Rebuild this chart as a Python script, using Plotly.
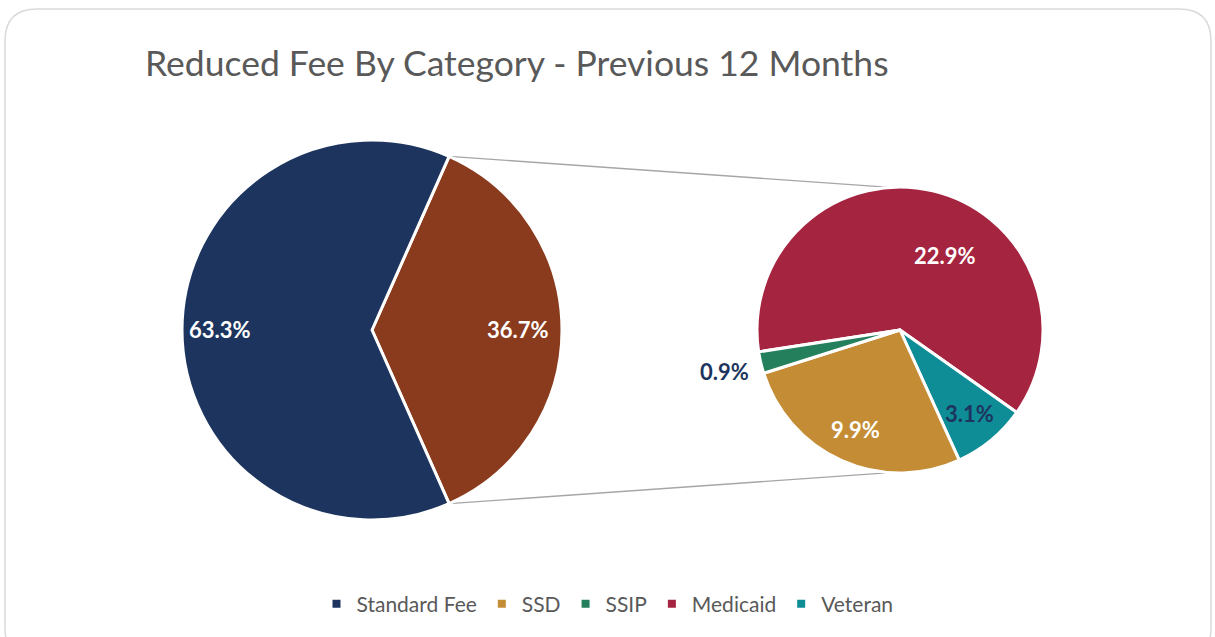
import math
import plotly.graph_objects as go

# ---- data ----
main_labels = ["Other", "Standard Fee"]
main_values = [36.7, 63.3]
sub_labels = ["Medicaid", "Veteran", "SSD", "SSIP"]
sub_values = [22.9, 3.1, 9.9, 0.9]
legend_labels = ["Standard Fee", "SSD", "SSIP", "Medicaid", "Veteran"]

colors = {
    "Standard Fee": "#1d355e",
    "Other": "#8a3b1d",
    "SSD": "#c48c34",
    "SSIP": "#24805c",
    "Medicaid": "#a5243f",
    "Veteran": "#0f8d97",
}
NAVY = "#1d355e"
FONT = "Gill Sans MT, Gill Sans, Lato, sans-serif"
W, H = 1215, 637

# ---- styling: label placement (radius fraction, angle shift in degrees) and colours ----
main_label_r = [0.77, 0.80]
main_label_shift = [0, 0]
main_label_color = ["white", "white"]
sub_label_r = [0.61, 0.76, 0.76, 1.26]
sub_label_shift = [18, 0, 0, 0]
sub_label_color = ["white", NAVY, "white", NAVY]

# geometry (pixels)
L_cx, L_cy, L_r = 372, 330, 190
R_cx, R_cy, R_r = 900, 330, 143


def px_x(x):
    return x / W


def px_y(y):
    return 1 - y / H


other_share = main_values[0] / sum(main_values)
main_rotation = 90 - other_share * 360 / 2

sub_total = sum(sub_values)
ssip_frac = sub_values[3] / sub_total
sub_rotation = 270 - ssip_frac * 360  # start angle of the Medicaid slice

fig = go.Figure()

fig.add_trace(go.Pie(
    labels=main_labels, values=main_values, sort=False, direction="clockwise",
    rotation=main_rotation,
    domain=dict(x=[px_x(L_cx - L_r), px_x(L_cx + L_r)], y=[px_y(L_cy + L_r), px_y(L_cy - L_r)]),
    marker=dict(colors=[colors[l] for l in main_labels], line=dict(color="white", width=3)),
    textinfo="none", showlegend=False, hoverinfo="label+value",
))

fig.add_trace(go.Pie(
    labels=sub_labels, values=sub_values, sort=False, direction="clockwise",
    rotation=sub_rotation,
    domain=dict(x=[px_x(R_cx - R_r), px_x(R_cx + R_r)], y=[px_y(R_cy + R_r), px_y(R_cy - R_r)]),
    marker=dict(colors=[colors[l] for l in sub_labels], line=dict(color="white", width=3)),
    textinfo="none", showlegend=False, hoverinfo="label+value",
))

for lab in legend_labels:
    fig.add_trace(go.Scatter(
        x=[None], y=[None], mode="markers", name=lab,
        marker=dict(symbol="square", size=8, color=colors[lab]),
    ))


def slice_labels(values, rotation, cx, cy, r, rfrac, shifts, cols):
    total = sum(values)
    ann = []
    start = rotation
    for v, k, s, c in zip(values, rfrac, shifts, cols):
        span = v / total * 360
        mid = math.radians(start + span / 2 + s)
        x = cx + k * r * math.sin(mid)
        y = cy - k * r * math.cos(mid)
        ann.append(dict(x=px_x(x), y=px_y(y), xref="paper", yref="paper",
                        text=f"{v:.1f}%", showarrow=False,
                        xanchor="center", yanchor="middle",
                        font=dict(family=FONT, size=22, color=c, weight="bold")))
        start += span
    return ann


annotations = slice_labels(main_values, main_rotation, L_cx, L_cy, L_r,
                           main_label_r, main_label_shift, main_label_color)
annotations += slice_labels(sub_values, sub_rotation, R_cx, R_cy, R_r,
                            sub_label_r, sub_label_shift, sub_label_color)

# connector lines
a1 = math.radians(main_rotation)
a2 = math.radians(main_rotation + other_share * 360)
p_top = (L_cx + L_r * math.sin(a1), L_cy - L_r * math.cos(a1))
p_bot = (L_cx + L_r * math.sin(a2), L_cy - L_r * math.cos(a2))
off = math.radians(4)
q_top = (R_cx - R_r * math.sin(off), R_cy - R_r * math.cos(off))
q_bot = (R_cx - R_r * math.sin(off), R_cy + R_r * math.cos(off))
shapes = []
for p, q in [(p_top, q_top), (p_bot, q_bot)]:
    shapes.append(dict(type="line", xref="paper", yref="paper",
                       x0=px_x(p[0]), y0=px_y(p[1]), x1=px_x(q[0]), y1=px_y(q[1]),
                       line=dict(color="#a6a6a6", width=1.3), layer="below"))

# rounded outer border
x0, x1, y0, y1, rr = 5, 1211, 9, 660, 32
path = (f"M {px_x(x0 + rr)},{px_y(y0)} L {px_x(x1 - rr)},{px_y(y0)} "
        f"Q {px_x(x1)},{px_y(y0)} {px_x(x1)},{px_y(y0 + rr)} "
        f"L {px_x(x1)},{px_y(y1 - rr)} Q {px_x(x1)},{px_y(y1)} {px_x(x1 - rr)},{px_y(y1)} "
        f"L {px_x(x0 + rr)},{px_y(y1)} Q {px_x(x0)},{px_y(y1)} {px_x(x0)},{px_y(y1 - rr)} "
        f"L {px_x(x0)},{px_y(y0 + rr)} Q {px_x(x0)},{px_y(y0)} {px_x(x0 + rr)},{px_y(y0)} Z")
shapes.append(dict(type="path", xref="paper", yref="paper", path=path,
                   line=dict(color="#d9d9d9", width=1.5), layer="below"))

fig.update_layout(
    width=W, height=H,
    margin=dict(l=0, r=0, t=0, b=0),
    paper_bgcolor="white", plot_bgcolor="rgba(0,0,0,0)",
    title=dict(text="Reduced Fee By Category - Previous 12 Months",
               x=px_x(145), xanchor="left", y=px_y(64), yanchor="middle",
               font=dict(family=FONT, size=35.5, color="#595959")),
    xaxis=dict(visible=False), yaxis=dict(visible=False),
    legend=dict(orientation="h", x=0.5, xanchor="center", y=px_y(604), yanchor="middle",
                font=dict(family=FONT, size=21, color="#595959"),
                itemwidth=30, tracegroupgap=0),
    annotations=annotations,
    shapes=shapes,
)

fig.write_html("out.html", config={"displayModeBar": False},
               post_script="document.body.style.margin='0px';")
